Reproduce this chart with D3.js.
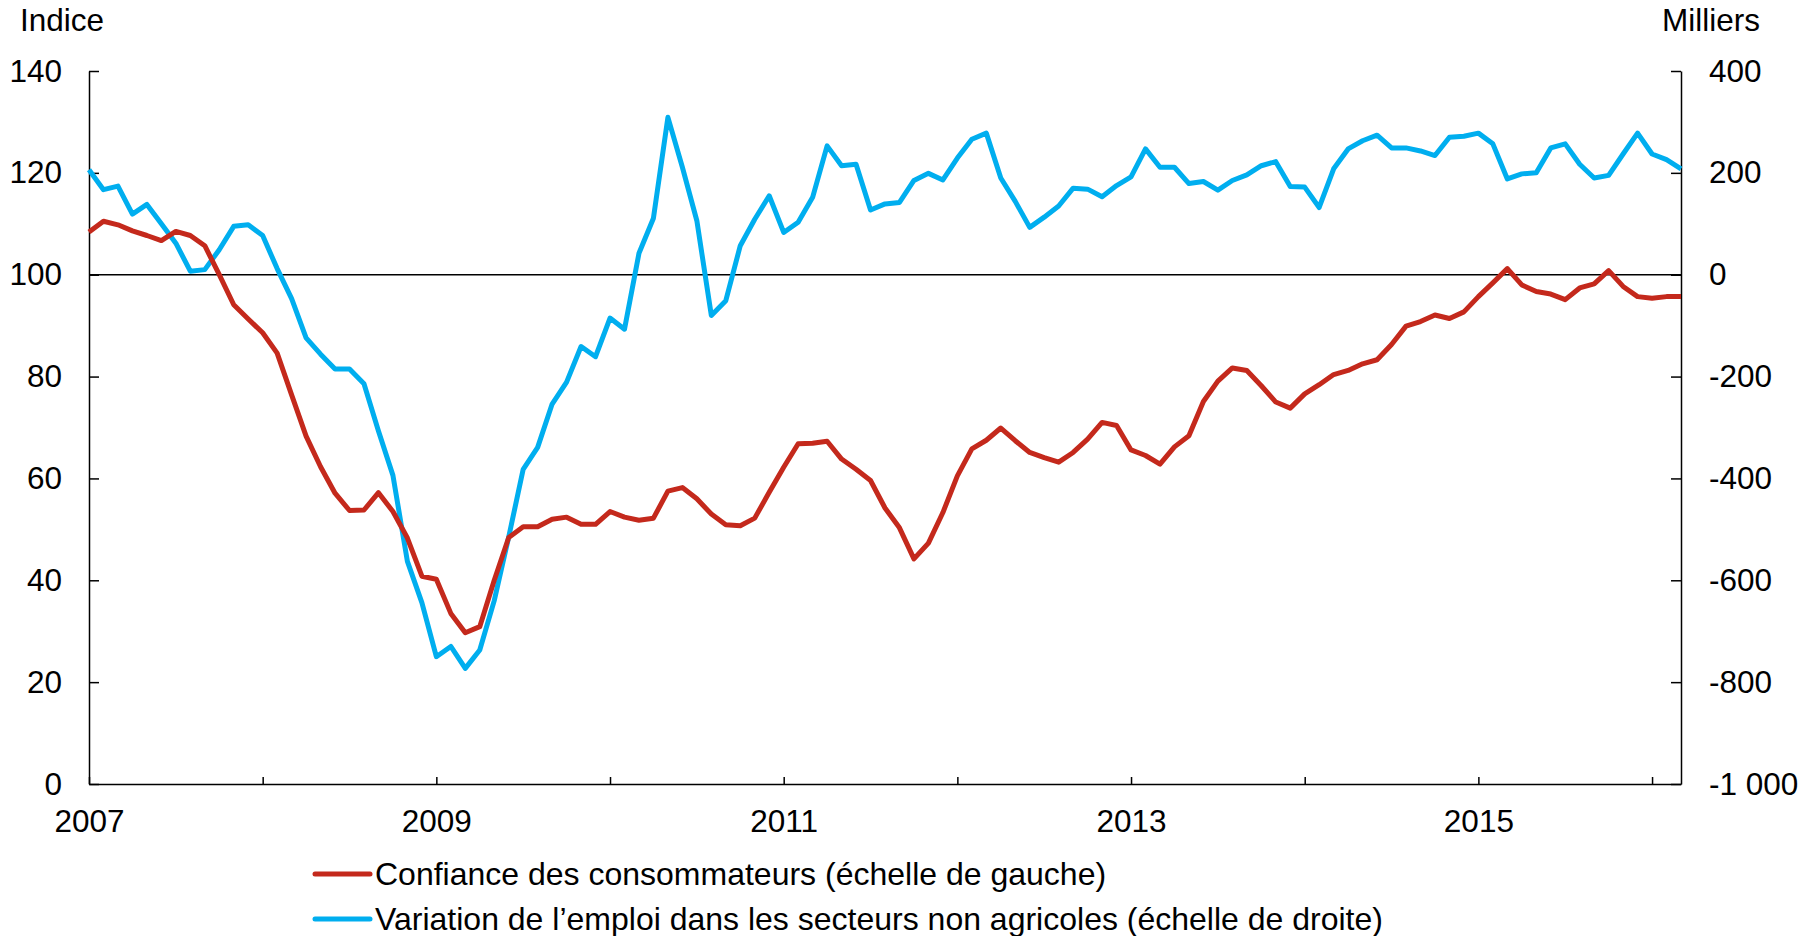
<!DOCTYPE html>
<html>
<head>
<meta charset="utf-8">
<script src="https://cdn.jsdelivr.net/npm/d3@7"></script>
<style>
  html, body { margin: 0; padding: 0; background: #fff; }
  svg text { font-family: "Liberation Sans", Arial, sans-serif; fill: #000; }
</style>
</head>
<body>
<svg id="chart" width="1814" height="936"></svg>
<script>
// ---- Data (monthly, Jan 2007 – Mar 2016) ----
const startYear = 2007;
const confiance = [
  108.4, 110.5, 109.8, 108.6, 107.7, 106.7, 108.5, 107.7, 105.7, 100.0,
  94.1, 91.3, 88.6, 84.6, 76.4, 68.3, 62.3, 57.1, 53.7, 53.8,
  57.2, 53.5, 48.3, 40.8, 40.2, 33.5, 29.7, 30.9, 40.0, 48.4,
  50.5, 50.5, 52.0, 52.4, 51.0, 51.0, 53.5, 52.4, 51.8, 52.2,
  57.5, 58.2, 56.0, 53.0, 50.9, 50.7, 52.2, 57.3, 62.2, 66.8,
  66.9, 67.3, 63.8, 61.8, 59.6, 54.2, 50.3, 44.2, 47.3, 53.3,
  60.5, 65.8, 67.5, 69.9, 67.4, 65.1, 64.1, 63.2, 65.1, 67.7,
  71.0, 70.4, 65.6, 64.5, 62.8, 66.2, 68.4, 75.1, 79.1, 81.7,
  81.2, 78.2, 75.0, 73.8, 76.6, 78.4, 80.4, 81.2, 82.5, 83.3,
  86.3, 89.9, 90.8, 92.1, 91.4, 92.7, 95.7, 98.4, 101.2, 98.0,
  96.7, 96.2, 95.1, 97.4, 98.2, 100.8, 97.7, 95.7, 95.4, 95.7,
  95.7
];
const emploi = [
  206, 167, 174, 119, 138, 100, 62, 7, 10, 49,
  95, 98, 77, 12, -47, -124, -156, -185, -185, -214,
  -307, -394, -563, -644, -750, -730, -773, -737, -640, -515,
  -382, -339, -254, -211, -141, -161, -85, -107, 42, 111,
  309, 211, 106, -80, -51, 57, 109, 155, 83, 103,
  152, 253, 214, 217, 127, 139, 142, 185, 199, 186,
  229, 266, 278, 190, 144, 93, 113, 135, 170, 168,
  153, 175, 192, 247, 211, 211, 179, 183, 166, 185,
  196, 214, 222, 173, 172, 132, 208, 247, 263, 274,
  249, 249, 243, 234, 270, 272, 278, 257, 188, 198,
  200, 249, 257, 217, 190, 195, 237, 278, 237, 226,
  208
];
const yearTicks = [2007, 2008, 2009, 2010, 2011, 2012, 2013, 2014, 2015, 2016];
const yearLabels = ["2007", "2009", "2011", "2013", "2015"];
const leftTicks = [0, 20, 40, 60, 80, 100, 120, 140];
const rightTicks = [-1000, -800, -600, -400, -200, 0, 200, 400];
const legendLabels = [
  "Confiance des consommateurs (échelle de gauche)",
  "Variation de l\u2019emploi dans les secteurs non agricoles (échelle de droite)"
];
const colors = ["#C4291C", "#00AEEF"];

// ---- Layout ----
const L = 89, R = 1681, T = 71, B = 784;
const FS = 31.5;
const svg = d3.select("#chart");

const x = d3.scaleLinear().domain([0, confiance.length - 1]).range([L, R]);
const yL = d3.scaleLinear().domain([0, 140]).range([B, T]);
const yR = d3.scaleLinear().domain([-1000, 400]).range([B, T]);

const loc = d3.formatLocale({decimal: ",", thousands: " ", grouping: [3], currency: ["", ""], minus: "-"});
const fmtR = loc.format(",d");

// 100 / 0 reference line
svg.append("line")
  .attr("x1", L).attr("x2", R)
  .attr("y1", yL(100)).attr("y2", yL(100))
  .attr("stroke", "#000").attr("stroke-width", 1.4);

// Axes
const axL = svg.append("g").attr("transform", `translate(${L},0)`)
  .call(d3.axisLeft(yL).tickValues(leftTicks).tickSizeInner(-10).tickSizeOuter(0).tickPadding(27));
const axR = svg.append("g").attr("transform", `translate(${R},0)`)
  .call(d3.axisRight(yR).tickValues(rightTicks).tickSizeInner(-10).tickSizeOuter(0).tickPadding(28).tickFormat(fmtR));
const axB = svg.append("g").attr("transform", `translate(0,${B})`)
  .call(d3.axisBottom(x)
    .tickValues(yearTicks.map(yv => (yv - startYear) * 12))
    .tickSizeInner(-7).tickSizeOuter(0).tickPadding(26)
    .tickFormat(v => {
      const lbl = String(startYear + v / 12);
      return yearLabels.includes(lbl) ? lbl : "";
    }));

[axL, axR, axB].forEach(g => {
  g.selectAll("path.domain").attr("stroke", "#000").attr("stroke-width", 1.5);
  g.selectAll(".tick line").attr("stroke", "#000").attr("stroke-width", 1.5);
  g.selectAll("text").attr("font-size", FS).attr("font-family", "Liberation Sans, Arial, sans-serif").attr("fill", "#000");
});

// Lines
const lineL = d3.line().x((d, i) => x(i)).y(d => yL(d));
const lineR = d3.line().x((d, i) => x(i)).y(d => yR(d));

svg.append("path").datum(emploi)
  .attr("d", lineR).attr("fill", "none")
  .attr("stroke", colors[1]).attr("stroke-width", 5).attr("stroke-linejoin", "round");
svg.append("path").datum(confiance)
  .attr("d", lineL).attr("fill", "none")
  .attr("stroke", colors[0]).attr("stroke-width", 5).attr("stroke-linejoin", "round");

// Axis titles
svg.append("text").attr("x", 20).attr("y", 31).attr("font-size", FS).text("Indice");
svg.append("text").attr("x", 1760).attr("y", 31).attr("font-size", FS).attr("text-anchor", "end").text("Milliers");

// Legend
const lg = svg.append("g");
const legYs = [874, 919];
legendLabels.forEach((t, i) => {
  lg.append("line").attr("x1", 315).attr("x2", 370).attr("y1", legYs[i]).attr("y2", legYs[i])
    .attr("stroke", colors[i]).attr("stroke-width", 5).attr("stroke-linecap", "round");
  lg.append("text").attr("x", 375).attr("y", legYs[i] + 11).attr("font-size", 32).text(t);
});
</script>
</body>
</html>
